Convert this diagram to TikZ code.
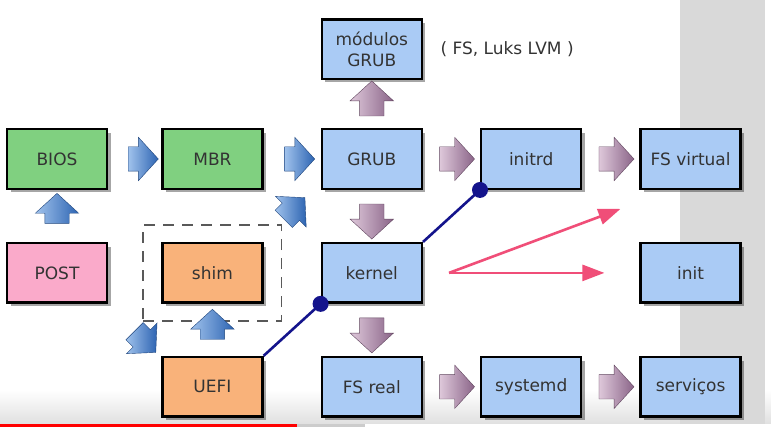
\documentclass[tikz,border=0pt]{standalone}
\usepackage{fontspec}
\setmainfont{DejaVu Sans}
\usetikzlibrary{arrows.meta,positioning,shapes.arrows,shadows,calc,fit}
\definecolor{verde}{RGB}{128,208,128}
\definecolor{azul}{RGB}{170,203,245}
\definecolor{rosa}{RGB}{250,170,202}
\definecolor{laranja}{RGB}{249,178,122}
\definecolor{marinho}{RGB}{20,20,140}
\definecolor{carmim}{RGB}{240,78,120}
\definecolor{cinza}{RGB}{217,217,217}
\definecolor{azulclaro}{RGB}{160,194,236}
\definecolor{azulescuro}{RGB}{45,100,178}
\definecolor{roxoclaro}{RGB}{222,200,218}
\definecolor{roxoescuro}{RGB}{138,100,136}
\begin{document}
\begin{tikzpicture}[x=1pt,y=-1pt,node distance=52pt and 57pt,
  font=\fontsize{17}{21}\selectfont,
  caixa/.style={draw=black,line width=2.4pt,minimum width=100pt,minimum height=59.5pt,inner sep=2pt,
    text=black!80,align=center,drop shadow={shadow xshift=3.5pt,shadow yshift=-3.5pt,fill=black,opacity=.35}},
  seta/.style={single arrow,minimum height=30pt,minimum width=0pt,inner xsep=0pt,inner ysep=12pt,
    single arrow head extend=9.5pt,single arrow tip angle=95,left color=azulclaro,right color=azulescuro,
    draw=azulescuro!70!black,line width=.4pt},
  roxa/.style={seta,minimum height=35pt,left color=roxoclaro,right color=roxoescuro,draw=roxoescuro!70!black},
  tracejado/.style={draw=black!65,line width=1.5pt,dash pattern=on 11pt off 8pt},
  linha/.style={draw=marinho,line width=2.6pt},
  rosado/.style={draw=carmim,line width=2.6pt},
  >={Triangle[length=22pt,width=16pt]}]

  \useasboundingbox (0,0) rectangle (771,427);
  \fill[white] (0,0) rectangle (771,427);
  \shade[top color=white,bottom color=black!12] (0,390) rectangle (771,423.5);
  \fill[cinza] (680,0) rectangle (765,423.5);
  \fill[red] (0,423.5) rectangle (297,427);
  \fill[black!20] (297,423.5) rectangle (365,427);

  \node[caixa,fill=verde] (bios) at (57,159) {BIOS};
  \node[caixa,fill=verde] (mbr) [right=53pt of bios] {MBR};
  \node[caixa,fill=azul] (grub) [right=of mbr] {GRUB};
  \node[caixa,fill=azul] (modulos) [above=48pt of grub] {módulos\\GRUB};
  \node[text=black!80] (notamod) [right=14pt of modulos] {( FS, Luks LVM )};
  \node[caixa,fill=azul] (initrd) [right=of grub] {initrd};
  \node[caixa,fill=azul] (fsvirtual) [right=of initrd] {FS virtual};
  \node[caixa,fill=rosa] (post) [below=of bios] {POST};
  \node[caixa,fill=laranja] (shim) [below=of mbr] {shim};
  \node[caixa,fill=azul] (kernel) [below=of grub] {kernel};
  \node[caixa,fill=azul] (init) [below=of fsvirtual] {init};
  \node[caixa,fill=laranja] (uefi) [below=of shim] {UEFI};
  \node[caixa,fill=azul] (fsreal) [below=of kernel] {FS real};
  \node[caixa,fill=azul] (systemd) [right=of fsreal] {systemd};
  \node[caixa,fill=azul] (servicos) [right=of systemd] {serviços};

  \node[tracejado,fit=(shim),inner xsep=18pt,inner ysep=17pt] (grupo) {};

  \node[seta] (s1) at ($(bios.east)!.5!(mbr.west)+(3,0)$) {};
  \node[seta] (s2) at ($(mbr.east)!.5!(grub.west)+(2,0)$) {};
  \node[seta,rotate=90] (s3) at ($(post.north)!.5!(bios.south)+(0,-2)$) {};
  \node[seta,rotate=90] (s4) at ($(uefi.north)!.5!(shim.south)$) {};
  \node[seta,rotate=45] (s5) at ($(grupo.north east)+(8,-12)$) {};
  \node[seta,rotate=-45] (s6) at ($(uefi.north west)+(-20,-18)$) {};

  \node[roxa,rotate=90] (r1) at ($(grub.north)!.5!(modulos.south)$) {};
  \node[roxa] (r2) at ($(grub.east)!.5!(initrd.west)$) {};
  \node[roxa,rotate=-90] (r3) at ($(grub.south)!.5!(kernel.north)$) {};
  \node[roxa] (r4) at ($(initrd.east)!.5!(fsvirtual.west)$) {};
  \node[roxa,rotate=-90] (r5) at ($(kernel.south)!.5!(fsreal.north)$) {};
  \node[roxa] (r6) at ($(fsreal.east)!.5!(systemd.west)$) {};
  \node[roxa] (r7) at ($(systemd.east)!.5!(servicos.west)$) {};

  \draw[linha] (uefi.north east) -- (kernel.south west);
  \draw[linha] (kernel.north east) -- (initrd.south west);
  \fill[marinho] (kernel.south west) circle (8pt);
  \fill[marinho] (initrd.south west) circle (8pt);

  \coordinate (ramo) at ($(kernel.east)+(26,0)$);
  \coordinate (alvo1) at ($(fsvirtual.south west)+(-19,19)$);
  \coordinate (alvo2) at ($(init.west)+(-35,0)$);
  \path (ramo) edge[->,rosado] (alvo1)
               edge[->,rosado] (alvo2);
\end{tikzpicture}
\end{document}
